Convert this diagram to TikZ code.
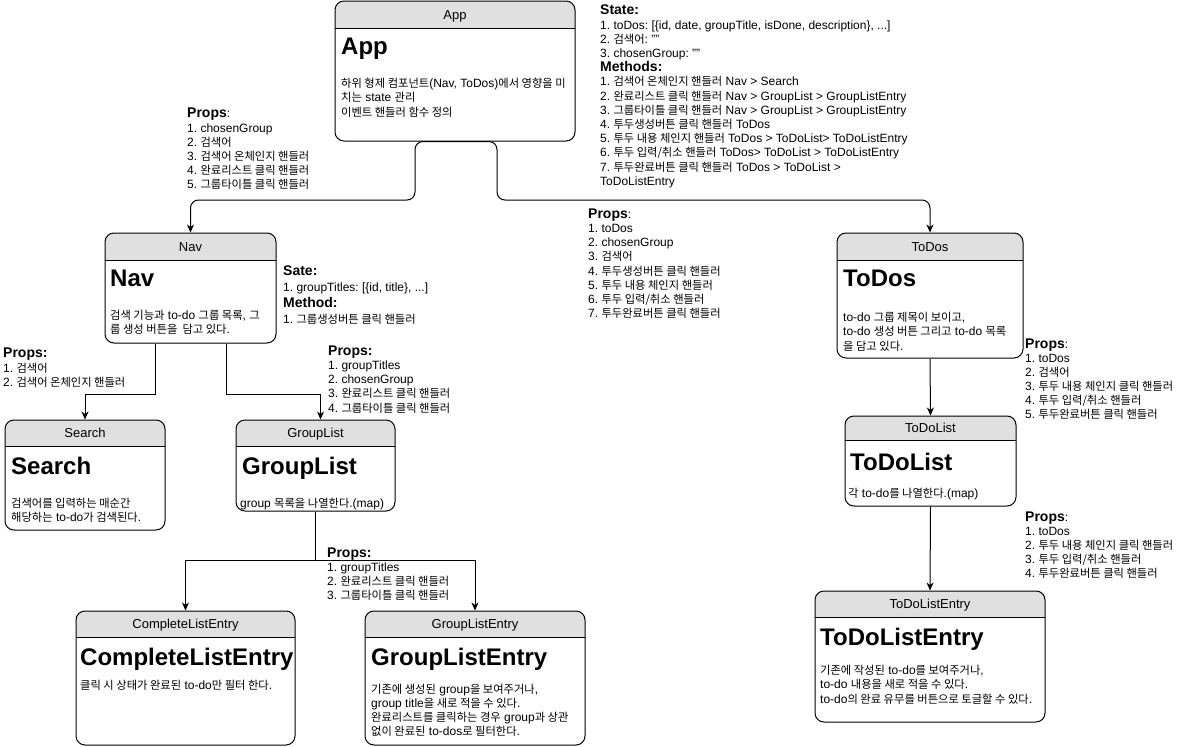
\documentclass[tikz,border=0pt]{standalone}
\usepackage{fontspec}
\setmainfont{Liberation Sans}
\newfontfamily\krfont{Noto Sans CJK KR}[Scale=0.94]
\usetikzlibrary{arrows.meta,fit,calc}
\newcommand\K[1]{{\krfont #1}}
\definecolor{hdrfill}{RGB}{224,224,224}
\newcommand\firststrut{\rule{0pt}{9.5pt}}
\newcommand\lbl[1]{{\fontsize{14}{14.2}\selectfont\bfseries #1}}
\tikzset{
  boxline/.style={line width=1pt, draw=black},
  hdrtxt/.style={anchor=base, inner sep=0pt, font=\fontsize{13}{15}\selectfont},
  ttl/.style={anchor=base west, inner sep=0pt, font=\fontsize{24}{28}\selectfont\bfseries},
  txt/.style={anchor=north west, inner sep=0pt, align=left, font=\fontsize{12}{14.2}\selectfont\frenchspacing},
  arr/.style={line width=1pt, -{Stealth[length=8pt,width=7pt,inset=2.5pt]}},
}
\newcommand\compbox[7]{%
  \begin{scope}
    \clip[rounded corners=9pt] (#2,#3) rectangle (#4,#5);
    \fill[hdrfill] (#2,#3) rectangle (#4,#6);
  \end{scope}
  \draw[boxline] (#2,#6) -- (#4,#6);
  \node[fit={(#2,#3) (#4,#5)}, inner sep=0pt, boxline, rounded corners=9pt] (#1) {};
  \node[hdrtxt] (#1-h) at ({(#2+#4)/2},{(#3+#6)/2+4.5}) {#7};
}
\begin{document}
\begin{tikzpicture}[x=1pt,y=-1pt]
\useasboundingbox (0,0) rectangle (1184,747);
\fill[white] (0,0) rectangle (1184,747);

% ---------- boxes ----------
\compbox{App}{335}{1}{575}{141}{28}{App}
\node[ttl] (App-t) at (341,54) {App};
\node[txt] (App-b) at (341,78) {\firststrut\K{하위 형제 컴포넌트}(Nav, ToDos)\K{에서 영향을 미}\\\K{치는} state \K{관리}\\\K{이벤트 핸들러 함수 정의}};

\compbox{Nav}{105}{233}{276}{343}{260}{Nav}
\node[ttl] (Nav-t) at (110,286) {Nav};
\node[txt] (Nav-b) at (110,310) {\firststrut\K{검색 기능과} to-do \K{그룹 목록}, \K{그}\\\K{룹 생성 버튼을~ 담고 있다}.};

\compbox{ToDos}{837}{233}{1023}{358}{260}{ToDos}
\node[ttl] (ToDos-t) at (843,286) {ToDos};
\node[txt] (ToDos-b) at (843,312) {\firststrut to-do \K{그룹 제목이 보이고},\\to-do \K{생성 버튼 그리고} to-do \K{목록}\\\K{을 담고 있다}.};

\compbox{Search}{5}{420}{165}{530}{446}{Search}
\node[ttl] (Search-t) at (11,474) {Search};
\node[txt] (Search-b) at (11,498) {\firststrut\K{검색어를 입력하는 매순간}\\\K{해당하는} to-do\K{가 검색된다}.};

\compbox{GroupList}{236}{420}{395}{511}{446}{GroupList}
\node[ttl] (GroupList-t) at (242,474) {GroupList};
\node[txt] (GroupList-b) at (240,498) {\firststrut group \K{목록을 나열한다}.(map)};

\compbox{ToDoList}{845}{416}{1016}{506}{440}{ToDoList}
\node[ttl] (ToDoList-t) at (850,470) {ToDoList};
\node[txt] (ToDoList-b) at (848,488) {\firststrut\K{각} to-do\K{를 나열한다}.(map)};

\compbox{TDLE}{815}{591}{1045}{722}{617}{ToDoListEntry}
\node[ttl] (TDLE-t) at (820,645) {ToDoListEntry};
\node[txt] (TDLE-b) at (820,665) {\firststrut\K{기존에 작성된} to-do\K{를 보여주거나},\\to-do \K{내용을 새로 적을 수 있다}.\\to-do\K{의 완료 유무를 버튼으로 토글할 수 있다}.};

\compbox{CLE}{76}{611}{295}{745}{637}{CompleteListEntry}
\node[ttl] (CLE-t) at (80,665) {CompleteListEntry};
\node[txt] (CLE-b) at (80,680) {\firststrut\K{클릭 시 상태가 완료된} to-do\K{만 필터 한다}.};

\compbox{GLE}{365}{611}{585}{745}{637}{GroupListEntry}
\node[ttl] (GLE-t) at (371,665) {GroupListEntry};
\node[txt, font=\fontsize{12}{14}\selectfont\frenchspacing] (GLE-b) at (371,684) {\firststrut\K{기존에 생성된} group\K{을 보여주거나},\\group title\K{을 새로 적을 수 있다}.\\\K{완료리스트를 클릭하는 경우} group\K{과 상관}\\\K{없이 완료된} to-dos\K{로 필터한다}.};

% ---------- side texts ----------
\node[txt] (appstate) at (600,5) {\firststrut\lbl{State:}\\
1. toDos: [\{id, date, groupTitle, isDone, description\}, ...]\\
2. \K{검색어}: ""\\
3. chosenGroup: ""\\
\lbl{Methods:}\\
1. \K{검색어 온체인지 핸들러} Nav > Search\\
2. \K{완료리스트 클릭 핸들러} Nav > GroupList > GroupListEntry\\
3. \K{그룹타이틀 클릭 핸들러} Nav > GroupList > GroupListEntry\\
4. \K{투두생성버튼 클릭 핸들러} ToDos\\
5. \K{투두 내용 체인지 핸들러} ToDos > ToDoList> ToDoListEntry\\
6. \K{투두 입력/취소 핸들러} ToDos> ToDoList > ToDoListEntry\\
7. \K{투두완료버튼 클릭 핸들러} ToDos > ToDoList >\\
ToDoListEntry};

\node[txt] (navprops) at (187,108) {\firststrut\lbl{Props}:\\
1. chosenGroup\\
2. \K{검색어}\\
3. \K{검색어 온체인지 핸들러}\\
4. \K{완료리스트 클릭 핸들러}\\
5. \K{그룹타이틀 클릭 핸들러}};

\node[txt, font=\fontsize{12}{14.05}\selectfont\frenchspacing] (todosprops) at (588,209) {\firststrut\lbl{Props}:\\
1. toDos\\
2. chosenGroup\\
3. \K{검색어}\\
4. \K{투두생성버튼 클릭 핸들러}\\
5. \K{투두 내용 체인지 핸들러}\\
6. \K{투두 입력/취소 핸들러}\\
7. \K{투두완료버튼 클릭 핸들러}};

\node[txt, font=\fontsize{12}{16}\selectfont\frenchspacing] (navstate) at (283,266) {\firststrut\lbl{Sate:}\\
1. groupTitles: [\{id, title\}, ...]\\
\lbl{Method:}\\
1. \K{그룹생성버튼 클릭 핸들러}};

\node[txt] (searchprops) at (3,348) {\firststrut\lbl{Props:}\\
1. \K{검색어}\\
2. \K{검색어 온체인지 핸들러}};

\node[txt, font=\fontsize{12}{14.05}\selectfont\frenchspacing] (glprops) at (328,346) {\firststrut\lbl{Props:}\\
1. groupTitles\\
2. chosenGroup\\
3. \K{완료리스트 클릭 핸들러}\\
4. \K{그룹타이틀 클릭 핸들러}};

\node[txt, font=\fontsize{12}{14}\selectfont\frenchspacing] (tdlprops) at (1025,339) {\firststrut\lbl{Props}:\\
1. toDos\\
2. \K{검색어}\\
3. \K{투두 내용 체인지 클릭 핸들러}\\
4. \K{투두 입력/취소 핸들러}\\
5. \K{투두완료버튼 클릭 핸들러}};

\node[txt, font=\fontsize{12}{14}\selectfont\frenchspacing] (gleprops) at (327,548) {\firststrut\lbl{Props:}\\
1. groupTitles\\
2. \K{완료리스트 클릭 핸들러}\\
3. \K{그룹타이틀 클릭 핸들러}};

\node[txt, font=\fontsize{12}{14}\selectfont\frenchspacing] (tdleprops) at (1025,512) {\firststrut\lbl{Props}:\\
1. toDos\\
2. \K{투두 내용 체인지 클릭 핸들러}\\
3. \K{투두 입력/취소 핸들러}\\
4. \K{투두완료버튼 클릭 핸들러}};

% ---------- connectors ----------
\draw[arr, rounded corners=8pt] (App.south) -| (415,200) -| (Nav.north);
\draw[arr, rounded corners=8pt] (App.south) -| (497,200) -| (ToDos.north);
\draw[arr] ([xshift=-35.5pt]Nav.south) |- ([yshift=25pt]Search.north) -- (Search.north);
\draw[arr] ([xshift=35.5pt]Nav.south) |- ([xshift=5pt,yshift=25pt]GroupList.north) -- ([xshift=5pt]GroupList.north);
\draw[arr] (GroupList.south) |- ([yshift=50pt]CLE.north) -- (CLE.north);
\draw[arr] (GroupList.south) |- ([yshift=50pt]GLE.north) -- (GLE.north);
\draw[arr] (ToDos.south) -- (ToDoList.north);
\draw[arr] (ToDoList.south) -- (TDLE.north);
\end{tikzpicture}
\end{document}
